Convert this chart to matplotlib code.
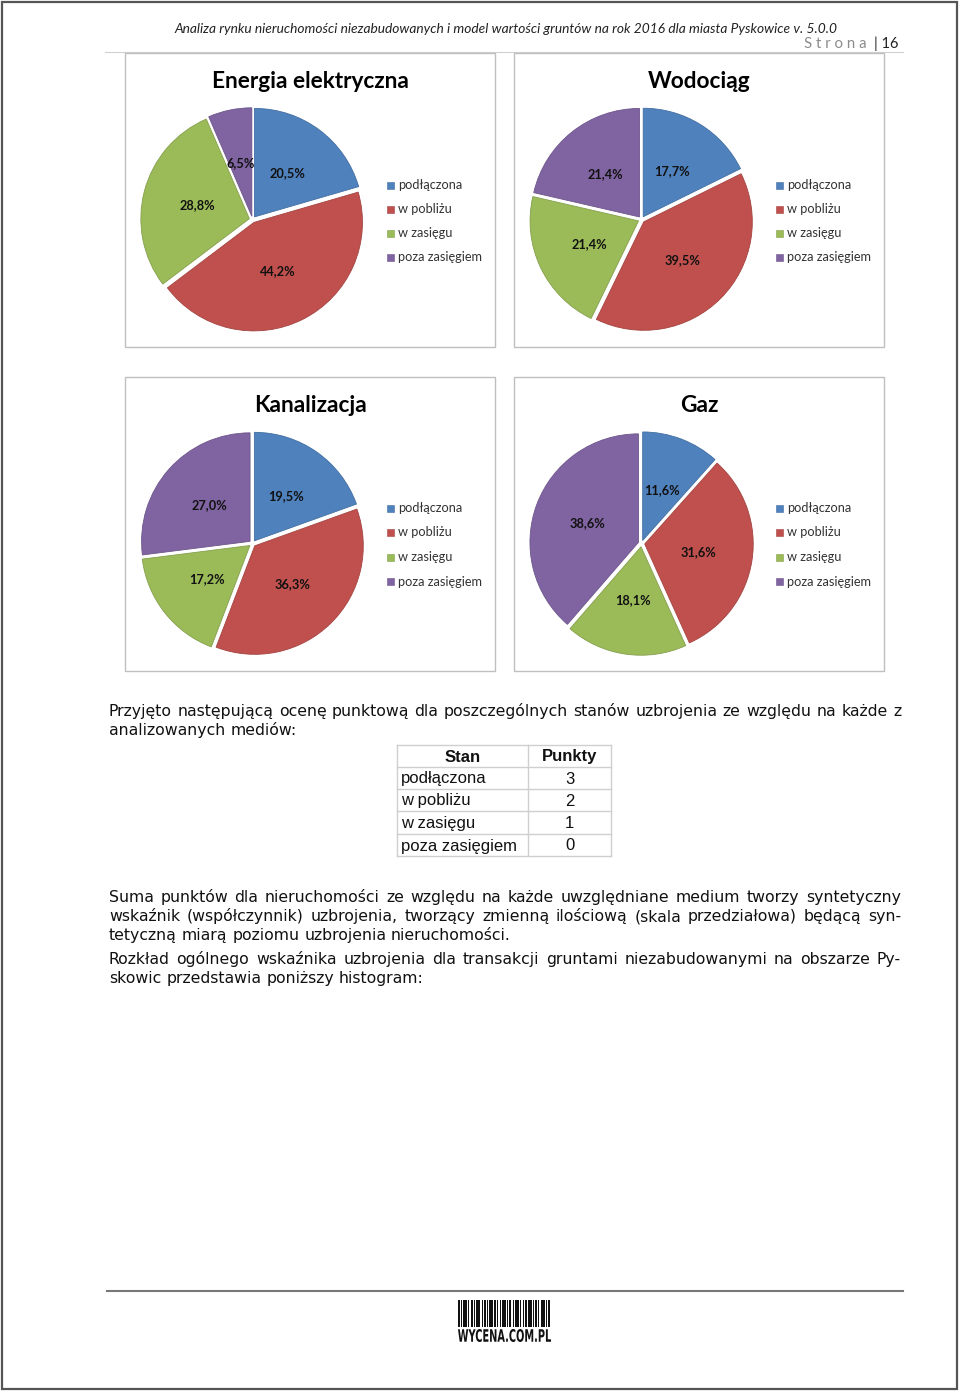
import matplotlib
matplotlib.use('Agg')
import matplotlib.pyplot as plt
from matplotlib.patches import Rectangle, PathPatch
from matplotlib.colors import to_rgb
from matplotlib.textpath import TextPath
from matplotlib.font_manager import FontProperties
from matplotlib.transforms import Affine2D

# ---------------- data ----------------
categories = ['podłączona', 'w pobliżu', 'w zasięgu', 'poza zasięgiem']
colors = ['#4F81BD', '#C0504D', '#9BBB59', '#8064A2']
titles = ['Energia elektryczna', 'Wodociąg', 'Kanalizacja', 'Gaz']
energia = [20.5, 44.2, 28.8, 6.5]
wodociag = [17.7, 39.5, 21.4, 21.4]
kanalizacja = [19.5, 36.3, 17.2, 27.0]
gaz = [11.6, 31.6, 18.1, 38.6]
table_header = ['Stan', 'Punkty']
punkty = [3, 2, 1, 0]

header_text = ('Analiza rynku nieruchomości niezabudowanych i model wartości gruntów '
               'na rok 2016 dla miasta Pyskowice v. 5.0.0')
para1 = ['Przyjęto następującą ocenę punktową dla poszczególnych stanów uzbrojenia ze względu na każde z',
         'analizowanych mediów:']
para2 = ['Suma punktów dla nieruchomości ze względu na każde uwzględniane medium tworzy syntetyczny',
         'wskaźnik (współczynnik) uzbrojenia, tworzący zmienną ilościową (skala przedziałowa) będącą syn-',
         'tetyczną miarą poziomu uzbrojenia nieruchomości.']
para3 = ['Rozkład ogólnego wskaźnika uzbrojenia dla transakcji gruntami niezabudowanymi na obszarze Py-',
         'skowic przedstawia poniższy histogram:']

# ---------------- figure ----------------
W, H = 960, 1393
fig = plt.figure(figsize=(W / 100, H / 100), dpi=100)
fig.patch.set_facecolor('white')
bg = fig.add_axes([0, 0, 1, 1])
bg.set_xlim(0, W)
bg.set_ylim(H, 0)
bg.axis('off')

CH = ['Lato', 'DejaVu Sans']

# page border
bg.add_patch(Rectangle((2, 2), 955, 1387, fill=False, edgecolor='#555555', lw=1.6))

# header
bg.text(505.5, 33, header_text, ha='center', va='baseline', fontsize=9.9,
        style='italic', family=CH, color='#222222')
bg.text(867, 48, 'S t r o n a', ha='right', va='baseline', fontsize=10.8,
        family=CH, color='#8c8c8c')
bg.text(874, 48, '| 16', ha='left', va='baseline', fontsize=10.5, family=CH, color='#222222')
bg.plot([105, 903], [52, 52], color='#d0d0d0', lw=0.8)


def darker(c, f=0.85):
    r, g, b = to_rgb(c)
    return (r * f, g * f, b * f)


def panel(bx, by, title, values, leg_rows):
    bg.add_patch(Rectangle((bx, by), 370, 294, facecolor='white',
                           edgecolor='#bfbfbf', lw=1.0, zorder=2))
    bg.text(bx + 185, by + 28, title, ha='center', va='center', fontsize=16.3,
            fontweight='bold', family=CH, color='black', zorder=3)
    cx, cy = bx + 127.5, by + 166.5
    R = 108.5
    hs = 128.0
    ax = fig.add_axes([(cx - hs) / W, 1 - (cy + hs) / H, 2 * hs / W, 2 * hs / H])
    wedges, _, autotexts = ax.pie(
        values, colors=colors, startangle=90, counterclock=False,
        explode=[0.03] * len(values), autopct=lambda p: '',
        pctdistance=0.5,
        wedgeprops=dict(linewidth=0.6))
    for w, c in zip(wedges, colors):
        w.set_edgecolor(darker(c))
    for t, v in zip(autotexts, values):
        t.set_text(f'{v:.1f}%'.replace('.', ','))
        t.set_fontsize(9.2)
        t.set_fontweight('bold')
        t.set_family(CH)
        t.set_color('#111111')
    ax.set_xlim(-hs / R, hs / R)
    ax.set_ylim(-hs / R, hs / R)
    ax.set_aspect('equal')
    ax.axis('off')
    for i, (lab, c) in enumerate(zip(categories, colors)):
        y = by + leg_rows[i]
        bg.add_patch(Rectangle((bx + 262, y - 3.5), 7, 7, facecolor=c,
                               edgecolor=darker(c), lw=0.4, zorder=3))
        bg.text(bx + 273, y, lab, ha='left', va='center', fontsize=9.2,
                family=CH, color='#333333', zorder=3)


rows1 = [132, 156, 180, 204]
rows2 = [131, 155.5, 180, 204.5]
panel(125, 53, titles[0], energia, rows1)
panel(514, 53, titles[1], wodociag, rows1)
panel(125, 377, titles[2], kanalizacja, rows2)
panel(514, 377, titles[3], gaz, rows2)

# ---------------- justified text ----------------
renderer = fig.canvas.get_renderer()
BODY = dict(fontsize=11.3, family='DejaVu Sans', color='#111111', va='baseline')


def text_line(line, y, justify, x0=109, x1=901):
    words = line.split(' ')
    ts = [bg.text(0, y, w, **BODY) for w in words]
    ws = [t.get_window_extent(renderer).width for t in ts]
    if justify and len(ts) > 1:
        gap = (x1 - x0 - sum(ws)) / (len(ts) - 1)
    else:
        gap = 5.0
    x = x0
    for t, w in zip(ts, ws):
        t.set_x(x)
        x += w + gap


def paragraph(lines, y0, step=19):
    for i, ln in enumerate(lines):
        text_line(ln, y0 + i * step, justify=(i < len(lines) - 1))


paragraph(para1, 716)
paragraph(para2, 902)
paragraph(para3, 964)

# ---------------- table ----------------
tx0, tsplit, tx1 = 397, 528, 611
row_edges = [745, 767, 789, 811, 834, 856]
grid = '#cfcfcf'
for y in row_edges:
    bg.plot([tx0, tx1], [y, y], color=grid, lw=1.0)
for x in [tx0, tsplit, tx1]:
    bg.plot([x, x], [row_edges[0], row_edges[-1]], color=grid, lw=1.0)
TF = ['Liberation Sans', 'DejaVu Sans']
ymid = [(row_edges[i] + row_edges[i + 1]) / 2 for i in range(5)]
bg.text((tx0 + tsplit) / 2, ymid[0] + 1, table_header[0], ha='center', va='center',
        fontsize=12, fontweight='bold', family=TF, color='#111111')
bg.text((tsplit + tx1) / 2, ymid[0] + 1, table_header[1], ha='center', va='center',
        fontsize=12, fontweight='bold', family=TF, color='#111111')
for i, (lab, p) in enumerate(zip(categories, punkty)):
    bg.text(tx0 + 4, ymid[i + 1] + 1, lab, ha='left', va='center', fontsize=12,
            family=TF, color='#111111')
    bg.text((tsplit + tx1) / 2, ymid[i + 1] + 1, str(p), ha='center', va='center',
            fontsize=12, family=TF, color='#111111')

# ---------------- footer ----------------
bg.plot([107, 903], [1291, 1291], color='#777777', lw=1.5)
bar_pattern = [2, 1, 1, 1, 3, 1, 1, 2, 2, 1, 1, 1, 3, 2, 1, 1, 2, 1, 1, 1, 3, 1, 2, 1,
               1, 2, 1, 1, 3, 1, 1, 1, 2, 2, 1, 1, 3, 1, 1, 2, 1, 1, 2, 1, 3, 1, 1, 1,
               2, 1, 1, 2, 3, 1, 1, 1, 2, 1]
x = 458.0
scale = 93.0 / sum(bar_pattern)
for i, wdt in enumerate(bar_pattern):
    if i % 2 == 0:
        bg.add_patch(Rectangle((x, 1300), wdt * scale, 27, facecolor='#111111', lw=0))
    x += wdt * scale

# condensed logo text, squeezed to its box
tp = TextPath((0, 0), 'WYCENA.COM.PL', size=10,
              prop=FontProperties(family='DejaVu Sans', weight='bold'))
ext = tp.get_extents()
sx = 93.0 / ext.width
sy = 13.0 / ext.height
tr = Affine2D().translate(-ext.x0, -ext.y0).scale(sx, -sy).translate(458, 1342)
bg.add_patch(PathPatch(tr.transform_path(tp), facecolor='#111111', lw=0))

fig.savefig('out.png', dpi=100)
